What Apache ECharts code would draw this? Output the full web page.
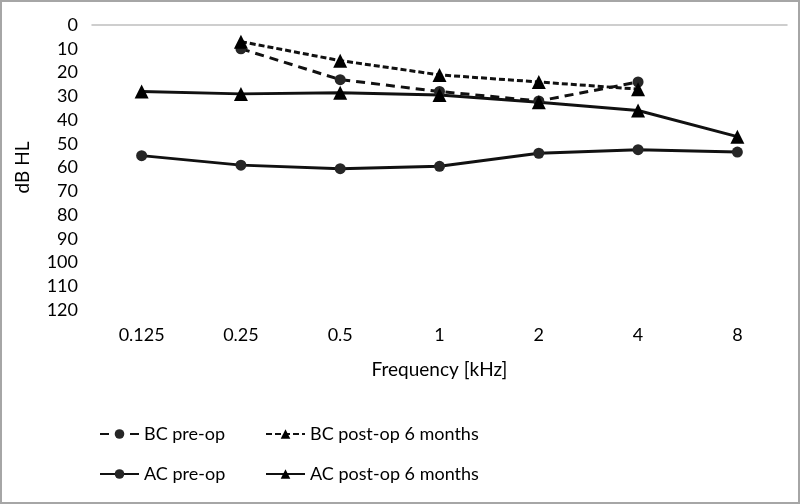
<!DOCTYPE html>
<html>
<head>
<meta charset="utf-8">
<script src="https://cdn.jsdelivr.net/npm/echarts@6/dist/echarts.min.js"></script>
<style>
    html, body { margin: 0; padding: 0; background: #fff; }
    #chart { width: 800px; height: 504px; box-sizing: border-box; border: 2px solid #a6a6a6; }
</style>
</head>
<body>
<div id="chart"></div>
<script>
    // audiogram, dB HL per frequency (kHz)
    const frequencies = ['0.125', '0.25', '0.5', '1', '2', '4', '8'];
    const bcPreOp = [null, 10, 23, 28, 32, 24, null];
    const bcPostOp = [null, 7, 15, 21, 24, 27, null];
    const acPreOp = [55, 59, 60.5, 59.5, 54, 52.5, 53.5];
    const acPostOp = [28, 29, 28.5, 29.5, 32.5, 36, 47];

    const font = 'Lato, "Open Sans", sans-serif';
    const ink = '#111';

    const chart = echarts.init(document.getElementById('chart'));

    function line(name, data, symbol, type) {
        return {
            name: name,
            type: 'line',
            data: data,
            symbol: symbol,
            symbolSize: symbol === 'circle' ? 11 : 14,
            itemStyle: {color: symbol === 'circle' ? '#262626' : '#000'},
            lineStyle: {color: ink, width: 3, type: type},
            connectNulls: false,
            animation: false
        }
    }

    const legendText = {fontFamily: font, fontSize: 18, color: '#000'};

    chart.setOption({
        grid: {left: 90, right: 11, top: 23, bottom: 192},
        legend: [{
            data: ['BC pre-op', 'AC pre-op'],
            orient: 'vertical',
            left: 97,
            top: 423,
            padding: 0,
            itemWidth: 39,
            itemHeight: 12,
            itemGap: 22,
            textStyle: legendText
        }, {
            data: ['BC post-op 6 months', 'AC post-op 6 months'],
            orient: 'vertical',
            left: 263,
            top: 423,
            padding: 0,
            itemWidth: 39,
            itemHeight: 12,
            itemGap: 22,
            textStyle: legendText
        }],
        xAxis: {
            type: 'category',
            data: frequencies,
            name: 'Frequency [kHz]',
            nameLocation: 'middle',
            nameGap: 50,
            nameTextStyle: {fontFamily: font, fontSize: 19, color: '#000'},
            axisLine: {lineStyle: {color: '#bfbfbf', width: 1.5}},
            axisTick: {show: false},
            axisLabel: {fontFamily: font, fontSize: 18, color: '#000', margin: 16}
        },
        yAxis: {
            type: 'value',
            inverse: true,
            min: 0,
            max: 120,
            interval: 10,
            name: 'dB HL',
            nameLocation: 'middle',
            nameGap: 60,
            nameRotate: 90,
            nameTextStyle: {fontFamily: font, fontSize: 19, color: '#000'},
            axisLine: {show: false},
            axisTick: {show: false},
            splitLine: {show: false},
            axisLabel: {fontFamily: font, fontSize: 18, color: '#000', margin: 14}
        },
        series: [
            line('BC pre-op', bcPreOp, 'circle', [9, 6]),
            line('BC post-op 6 months', bcPostOp, 'triangle', [6, 3]),
            line('AC pre-op', acPreOp, 'circle', 'solid'),
            line('AC post-op 6 months', acPostOp, 'triangle', 'solid')
        ]
    });
</script>
</body>
</html>
